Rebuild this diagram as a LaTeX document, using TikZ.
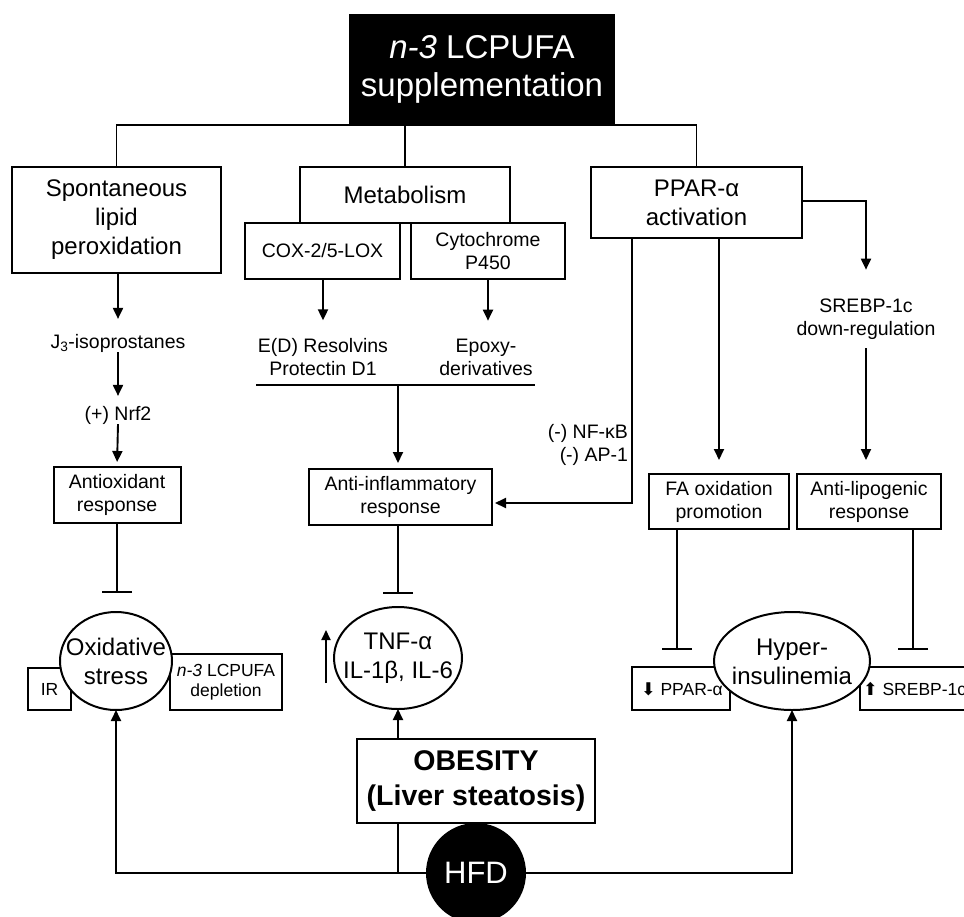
\documentclass[tikz,border=0pt]{standalone}
\usepackage{fontspec}
\setmainfont{Liberation Sans}
\newfontfamily\symfont{DejaVu Sans}
\usetikzlibrary{arrows.meta,shapes.geometric}
\begin{document}
\begin{tikzpicture}[x=1pt,y=-1pt,
  every node/.style={inner sep=0pt, outer sep=0pt, align=center},
  box/.style={draw, line width=2pt, fill=white},
  big/.style={font=\fontsize{24}{29}\selectfont},
  mid/.style={font=\fontsize{19.5}{23}\selectfont},
  sml/.style={font=\fontsize{17.5}{20}\selectfont},
  arr/.style={line width=1.9pt, -{Triangle[length=11pt,width=10pt]}},
  inh/.style={line width=1.9pt, -{Bar[width=30pt,line width=1.9pt]}},
  ln/.style={line width=1.9pt},
  oval/.style={ellipse, draw, line width=2pt, fill=white, inner sep=0pt}
]
\useasboundingbox (0,0) rectangle (964,916);
\clip (0,0) rectangle (964,916);
\fill[white] (0,0) rectangle (964,916);

% top
\node[fill=black, minimum width=266pt, minimum height=111pt, text=white,
      font=\fontsize{33}{38}\selectfont] (top) at (482,69.5) {\textit{n-3} LCPUFA\\supplementation};

% level 1 boxes
\node[box, big, minimum width=209pt, minimum height=106pt] (spont) at (116.5,220) {Spontaneous\\lipid\\peroxidation};
\node[box, big, minimum width=210pt, minimum height=56pt] (meta) at (405,195) {Metabolism};
\node[box, mid, minimum width=155pt, minimum height=56pt] (cox) at (322.5,251) {COX-2/5-LOX};
\node[box, mid, minimum width=154pt, minimum height=56pt] (cyt) at (488,251) {Cytochrome\\P450};
\node[box, big, minimum width=211pt, minimum height=71pt] (ppar) at (696.5,202.5) {PPAR-α\\activation};

% bus
\draw[ln] (spont.north) |- (ppar.north |- top.south) -- (ppar.north);
\draw[ln] (meta.north |- top.south) -- (meta.north);

% left column
\node[mid] (j3) at (118,343) {J\textsubscript{3}-isoprostanes};
\node[mid] (nrf) at (118,415) {(+) Nrf2};
\node[box, mid, minimum width=127pt, minimum height=56pt] (antiox) at (117,495) {Antioxidant\\response};
\draw[arr, shorten >=15pt] (spont.south -| j3.north) -- (j3.north);
\draw[arr, shorten >=10pt] (j3.south) -- (nrf.north);
\draw[arr, shorten >=5pt] (nrf.south) -- (antiox.north);

% middle column
\node[mid] (ed) at (323,357) {E(D) Resolvins\\Protectin D1};
\node[mid] (epoxy) at (486,357) {Epoxy-\\derivatives};
\draw[arr, shorten >=18pt] (cox.south -| ed.north) -- (ed.north);
\draw[arr, shorten >=18pt] (cyt.south) -- (cyt.south |- epoxy.north);
\coordinate (bl) at (256,385);
\coordinate (br) at (535,385);
\coordinate (bm) at (398,385);
\draw[ln] (bl) -- (br);
\node[box, mid, minimum width=183pt, minimum height=56pt] (antiinf) at (400.5,497) {Anti-inflammatory\\response};
\draw[arr, shorten >=6pt] (bm) -- (bm |- antiinf.north);

% right column
\node[mid, anchor=east] (nfkb) at (628,445) {\hfill(-) NF-κB\\\hfill(-) AP-1};
\draw[arr, shorten >=3pt] ([xshift=-64.5pt]ppar.south) |- ([yshift=-6pt]antiinf.east);
\node[box, mid, minimum width=140pt, minimum height=55pt] (fa) at (719,501.5) {FA oxidation\\promotion};
\draw[arr, shorten >=14pt] (fa.north |- ppar.south) -- (fa.north);
\node[mid] (srebp) at (866,319) {SREBP-1c\\down-regulation};
\draw[arr, shorten >=29pt] ([yshift=1.5pt]ppar.east) -| (srebp.north);
\node[box, mid, minimum width=144pt, minimum height=55pt] (antilip) at (869,501.5) {Anti-lipogenic\\response};
\draw[arr, shorten <=9pt, shorten >=14pt] (srebp.south) -- (srebp.south |- antilip.north);

% bottom boxes and ovals
\node[box, minimum width=43pt, minimum height=42pt] (irbox) at (49.5,689) {};
\node[box, minimum width=112pt, minimum height=56pt] (deplbox) at (226,682) {};
\node[box, minimum width=98pt, minimum height=43pt] (pparbox) at (681,688.5) {};
\node[box, minimum width=115pt, minimum height=43pt] (sbox) at (917.5,688.5) {};

\node[oval, minimum width=112pt, minimum height=98pt] (ox) at (116,661) {};
\node[oval, minimum width=128pt, minimum height=102pt] (tnf) at (398,658) {};
\node[oval, minimum width=156pt, minimum height=98pt] (hyper) at (792,661) {};

\node[sml] (irt) at (irbox) {IR};
\node[sml] (deplt) at (deplbox) {\textit{n-3} LCPUFA\\depletion};
\node[sml, anchor=west] (ppart) at (641,689) {{\symfont ⬇} PPAR-α};
\node[sml, anchor=west] (sbt) at (863,689) {{\symfont ⬆} SREBP-1c};
\node[big] (oxt) at (ox) {Oxidative\\stress};
\node[big] (tnft) at (tnf) {TNF-α\\IL-1β, IL-6};
\node[big] (hypert) at ([yshift=-1pt]hyper.center) {Hyper-\\insulinemia};

% inhibitions
\draw[inh, shorten >=19pt] (antiox.south) -- (antiox.south |- ox.north);
\draw[inh, shorten >=13pt] (antiinf.south -| tnf.north) -- (tnf.north);
\draw[inh, shorten >=17pt] (fa.south -| 677,0) -- (pparbox.north -| 677,0);
\draw[inh, shorten >=17pt] (antilip.south -| 913,0) -- (sbox.north -| 913,0);

% up arrow near TNF
\coordinate (upa) at (326,683);
\coordinate (upb) at (326,630);
\draw[line width=1.9pt, -{Triangle[length=10pt,width=9pt]}] (upa) -- (upb);

% obesity and HFD
\node[box, minimum width=238pt, minimum height=84pt, font=\bfseries\fontsize{28.5}{35}\selectfont] (obes) at (476,781) {OBESITY\\(Liver steatosis)};
\node[circle, fill=black, minimum size=100pt, text=white, font=\fontsize{31}{36}\selectfont] (hfd) at (476,873) {HFD};
\draw[arr] (hfd.west) -| (ox.south);
\draw[arr] (hfd.east) -| (hyper.south);
\draw[ln] (tnf.south |- obes.south) -- (tnf.south |- hfd.center);
\draw[arr] (tnf.south |- obes.north) -- (tnf.south);
\end{tikzpicture}
\end{document}
